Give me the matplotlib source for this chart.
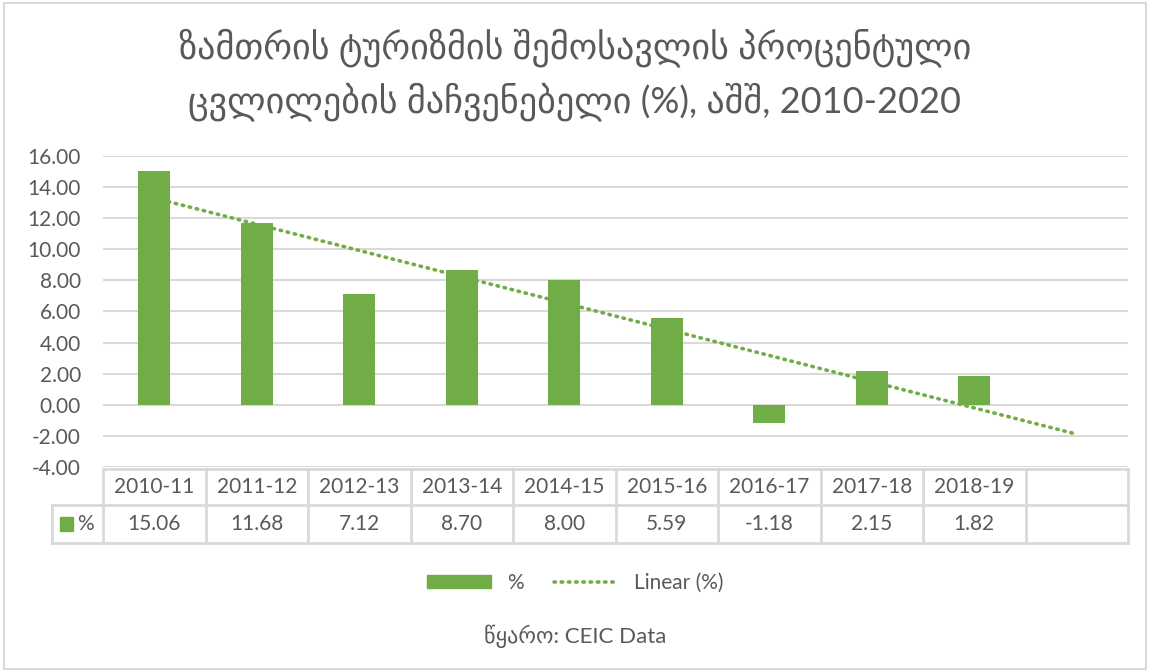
import matplotlib
matplotlib.use("Agg")
import matplotlib.pyplot as plt
import numpy as np
from matplotlib.patches import Rectangle
from matplotlib.lines import Line2D
from matplotlib.transforms import blended_transform_factory

# data
periods = ["2010-11", "2011-12", "2012-13", "2013-14", "2014-15",
           "2015-16", "2016-17", "2017-18", "2018-19"]
pct = [15.06, 11.68, 7.12, 8.70, 8.00, 5.59, -1.18, 2.15, 1.82]
n_slots = 10  # excel leaves one empty slot for the trend forecast

title = "ზამთრის ტურიზმის შემოსავლის პროცენტული\nცვლილების მაჩვენებელი (%), აშშ, 2010-2020"
source = "წყარო: CEIC Data"

green = "#70AD47"
grey_txt = "#595959"
grid_c = "#D9D9D9"
fs = 15

plt.rcParams['font.family'] = ['Lato', 'DejaVu Sans']

W, H = 1150, 672
fig = plt.figure(figsize=(W / 100, H / 100), dpi=100)

# axes placed in pixel terms
l, r, t, b = 103, 1128, 156, 467
ax = fig.add_axes([l / W, 1 - b / H, (r - l) / W, (b - t) / H])

x = np.arange(len(pct))
ax.bar(x, pct, width=0.31, color=green, zorder=3)

# linear trend, forward one period
coef = np.polyfit(x + 1, pct, 1)
xt = np.arange(n_slots)
ax.plot(xt, np.polyval(coef, xt + 1), color=green, lw=2.6,
        linestyle=(0, (0.4, 1.6)), dash_capstyle="round", zorder=2)

ax.set_xlim(-0.5, n_slots - 0.5)
ax.set_ylim(-4, 16)
ax.set_yticks(np.arange(-4, 17, 2))
ax.set_yticklabels([f"{v:.2f}" for v in np.arange(-4, 17, 2)])
ax.tick_params(axis="y", length=0, labelsize=fs, colors=grey_txt, pad=16)
ax.set_xticks([])
ax.grid(axis="y", color=grid_c, lw=1.5, zorder=0)
for s in ax.spines.values():
    s.set_visible(False)

# data table under the plot
tr = blended_transform_factory(ax.transData, ax.transAxes)
ph = b - t
def yfrac(py):
    return (b - py) / ph
y0, y1, y2 = yfrac(469), yfrac(505), yfrac(543)
lk = dict(color=grid_c, lw=2, transform=tr, clip_on=False)
ax.add_line(Line2D([-0.5, n_slots - 0.5], [y0, y0], **lk))
ax.add_line(Line2D([-1.0, n_slots - 0.5], [y1, y1], **lk))
ax.add_line(Line2D([-1.0, n_slots - 0.5], [y2, y2], **lk))
for k in range(n_slots + 1):
    ax.add_line(Line2D([k - 0.5, k - 0.5], [y0, y2], **lk))
ax.add_line(Line2D([-1.0, -1.0], [y1, y2], **lk))

for i, p in enumerate(periods):
    ax.text(i, (y0 + y1) / 2, p, transform=tr, ha="center", va="center",
            fontsize=fs, color=grey_txt, clip_on=False)
    ax.text(i, (y1 + y2) / 2, f"{pct[i]:.2f}", transform=tr, ha="center",
            va="center", fontsize=fs, color=grey_txt, clip_on=False)

# legend key inside the table
ax.add_patch(Rectangle((-0.92, (y1 + y2) / 2 - 0.022), 0.13, 0.044,
                       transform=tr, color=green, clip_on=False))
ax.text(-0.755, (y1 + y2) / 2, "%", transform=tr, ha="left", va="center",
        fontsize=fs, color=grey_txt, clip_on=False)

# legend
handles = [Rectangle((0, 0), 1, 1, color=green),
           Line2D([0], [0], color=green, lw=2.6, linestyle=(0, (0.4, 1.6)),
                  dash_capstyle="round")]
fig.legend(handles, ["%", "Linear (%)"], loc="center",
           bbox_to_anchor=(0.5, 1 - 583 / H), ncol=2, frameon=False,
           fontsize=fs, labelcolor=grey_txt, handlelength=3.1,
           handleheight=0.6, columnspacing=1.45, handletextpad=0.75)

fig.text(0.5, 1 - 75 / H, title, ha="center", va="center", fontsize=26,
         color=grey_txt, linespacing=1.5)
fig.text(0.5, 1 - 636 / H, source, ha="center", va="center", fontsize=16,
         color=grey_txt)

# chart frame
fig.patches.append(Rectangle((4 / W, 3 / H), 1 - 8 / W, 1 - 6 / H,
                             transform=fig.transFigure, fill=False,
                             edgecolor=grid_c, lw=1.5))

fig.savefig("out.png", dpi=100)
